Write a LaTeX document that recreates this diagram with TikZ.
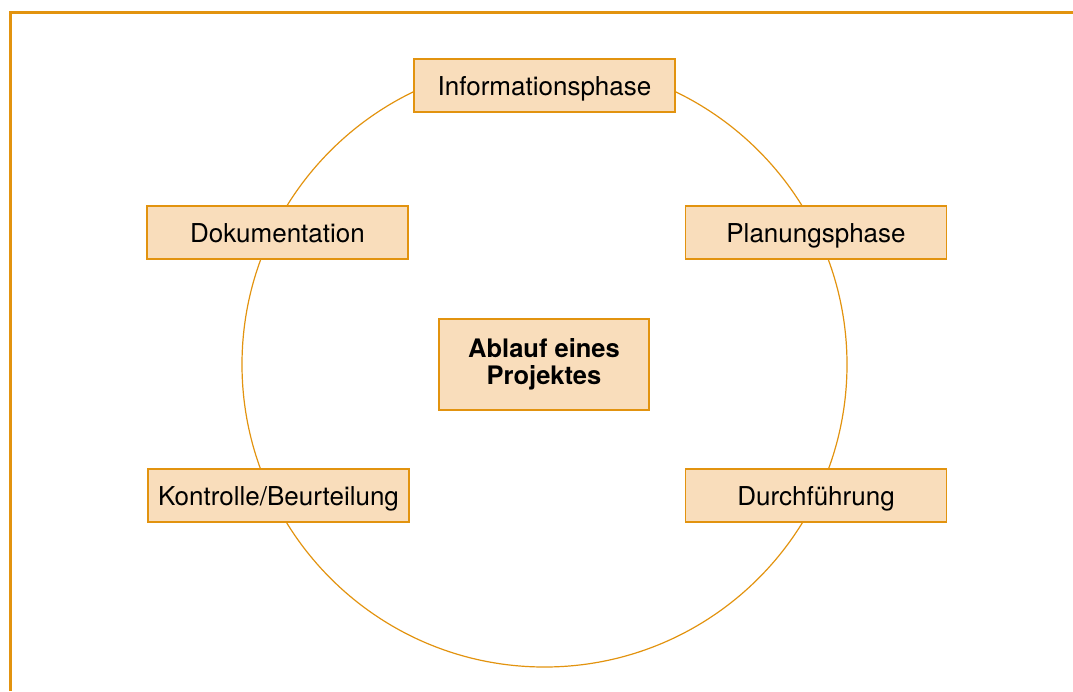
\documentclass[tikz,border=0pt]{standalone}
\usepackage{fontspec}
\setmainfont{TeX Gyre Heros}
\usepackage{xcolor}
\usetikzlibrary{positioning}
\definecolor{rahmen}{HTML}{E2930F}
\definecolor{kasten}{HTML}{F9DDBB}

\begin{document}
\begin{tikzpicture}[x=1pt,y=-1pt,
		phasenode/.style={rectangle, draw=rahmen, fill=kasten, line width=1.3pt, minimum width=261pt, minimum height=53pt, inner sep=0pt, text height=19pt, text depth=0pt, font=\fontsize{26}{28}\selectfont},
		titlenode/.style={rectangle, draw=rahmen, fill=kasten, line width=1.3pt, minimum width=210pt, minimum height=91pt, inner sep=0pt, align=center, font=\fontsize{25.5}{27}\selectfont\bfseries},
		]
		\useasboundingbox (0,0) rectangle (1073,691);
		
		%Frame
		\draw[rahmen, line width=2.6pt] (10.5,691) -- (10.5,12.5) -- (1073,12.5);
		
		%Circle
		\draw[rahmen, line width=1.2pt] (544.5,364.5) circle (302.5);
		
		%Nodes
		\node[titlenode]  (ablauf)  at (544,364.5)  {Ablauf eines\\Projektes};
		\node[phasenode]  (info)    at (544.5,85.5) {Informationsphase};
		\node[phasenode]  (planung) at (816,232.5)  {Planungsphase};
		\node[phasenode]  (durch)   at (816,495.5)  {Durchführung};
		\node[phasenode]  (kontr)   at (278.5,495.5) {Kontrolle/Beurteilung};
		\node[phasenode]  (doku)    at (277.5,232.5) {Dokumentation};
		
	\end{tikzpicture}
\end{document}
